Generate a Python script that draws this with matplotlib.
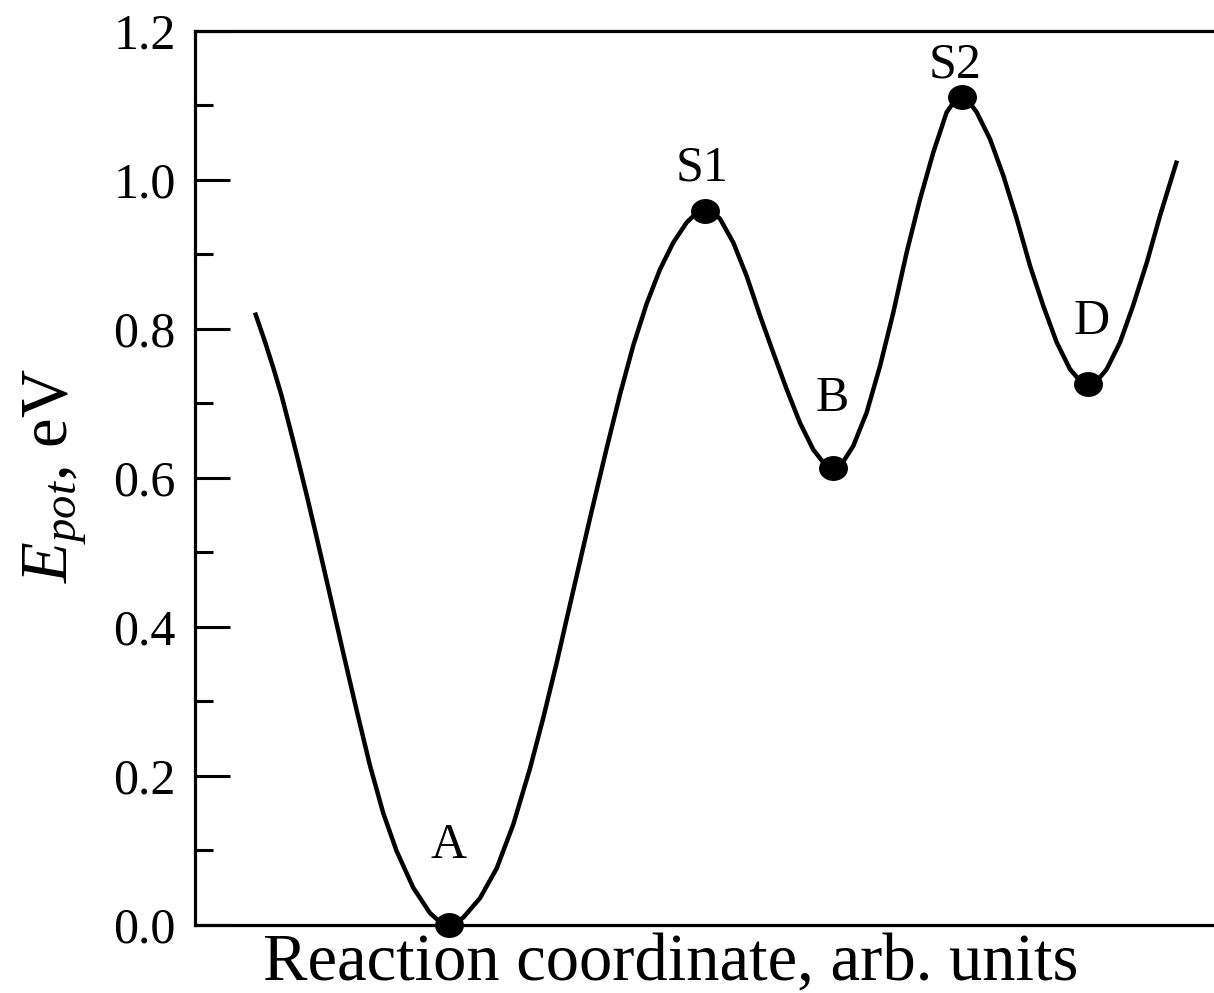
import matplotlib
matplotlib.use("Agg")
import matplotlib.pyplot as plt
from matplotlib.ticker import MultipleLocator
from matplotlib.path import Path
from matplotlib.transforms import Affine2D

plt.rcParams["font.family"] = ["Liberation Serif", "DejaVu Serif"]
plt.rcParams["mathtext.fontset"] = "custom"
plt.rcParams["mathtext.rm"] = "Liberation Serif"
plt.rcParams["mathtext.it"] = "Liberation Serif:italic"

# reaction coordinate (arb. units) and potential energy (eV)
coord = [0.600, 0.700, 0.783, 0.867, 0.950, 1.033, 1.117, 1.200, 1.283, 1.367,
         1.483, 1.617, 1.750, 1.883, 2.017, 2.183, 2.350, 2.450, 2.540, 2.610,
         2.683, 2.850, 3.017, 3.183, 3.350, 3.483, 3.617, 3.733, 3.950, 4.117,
         4.250, 4.383, 4.517, 4.650, 4.783, 4.917, 5.010, 5.100, 5.180, 5.250,
         5.383, 5.517, 5.650, 5.783, 5.917, 6.050, 6.183, 6.283, 6.383, 6.483,
         6.583, 6.717, 6.850, 6.983, 7.117, 7.250, 7.383, 7.517, 7.590, 7.667,
         7.740, 7.817, 7.950, 8.083, 8.217, 8.350, 8.483, 8.617, 8.750, 8.840,
         8.933, 9.030, 9.117, 9.250, 9.380, 9.520, 9.650, 9.820]
energy = [0.822, 0.783, 0.748, 0.710, 0.667, 0.623, 0.577, 0.530, 0.482, 0.433,
          0.365, 0.288, 0.214, 0.150, 0.099, 0.050, 0.016, 0.004, 0.000, 0.003,
          0.010, 0.036, 0.076, 0.135, 0.210, 0.278, 0.352, 0.420, 0.546, 0.640,
          0.712, 0.778, 0.834, 0.880, 0.916, 0.943, 0.955, 0.959, 0.956, 0.948,
          0.916, 0.871, 0.818, 0.768, 0.719, 0.674, 0.638, 0.621, 0.614, 0.622,
          0.643, 0.688, 0.750, 0.822, 0.903, 0.974, 1.037, 1.091, 1.105, 1.111,
          1.105, 1.091, 1.055, 1.006, 0.948, 0.885, 0.831, 0.782, 0.746, 0.732,
          0.726, 0.732, 0.746, 0.782, 0.831, 0.890, 0.952, 1.026]

# stationary points and where their names sit
point_names = ["A", "S1", "B", "S2", "D"]
point_x = [2.54, 5.10, 6.383, 7.667, 8.933]
point_e = [0.000, 0.959, 0.614, 1.111, 0.726]
label_x = [2.54, 5.07, 6.37, 7.60, 8.97]
label_e = [0.090, 0.999, 0.690, 1.138, 0.793]

# slightly wide dot, like the original
dot = Path.unit_circle().transformed(Affine2D().scale(1.17, 1.0))

fig = plt.figure(figsize=(12.14, 9.93), dpi=100)
ax = fig.add_axes([0.1606, 0.0685, 0.8394, 0.9003])

ax.plot(coord, energy, color="black", lw=3.2, solid_capstyle="butt",
        solid_joinstyle="round")
ax.plot(point_x, point_e, linestyle="none", marker=dot, color="black",
        ms=19.8, clip_on=False)

for name, x, y in zip(point_names, label_x, label_e):
    ax.text(x, y, name, ha="center", va="baseline", fontsize=36)

ax.set_xlim(0, 10.19)
ax.set_ylim(0, 1.2)
ax.yaxis.set_major_locator(MultipleLocator(0.2))
ax.yaxis.set_minor_locator(MultipleLocator(0.1))
ax.set_yticks(ax.get_yticks())
ax.set_yticklabels([f"{v:.1f}" for v in ax.get_yticks()])
ax.set_ylim(0, 1.2)
ax.set_xticks([])

ax.tick_params(axis="y", which="major", direction="in", length=25, width=2.2,
               labelsize=36, pad=14)
ax.tick_params(axis="y", which="minor", direction="in", length=13, width=2.2)

for side in ["left", "top", "bottom"]:
    ax.spines[side].set_linewidth(2.3)
ax.spines["right"].set_visible(False)

ax.set_xlabel("Reaction coordinate, arb. units", fontsize=48, va="baseline")
ax.xaxis.set_label_coords(0.467, -0.0605)
ax.set_ylabel(r"$E_{pot}$, eV", fontsize=48, va="baseline")
ax.yaxis.set_label_coords(-0.1246, 0.503)

fig.savefig("out.png", dpi=100)
